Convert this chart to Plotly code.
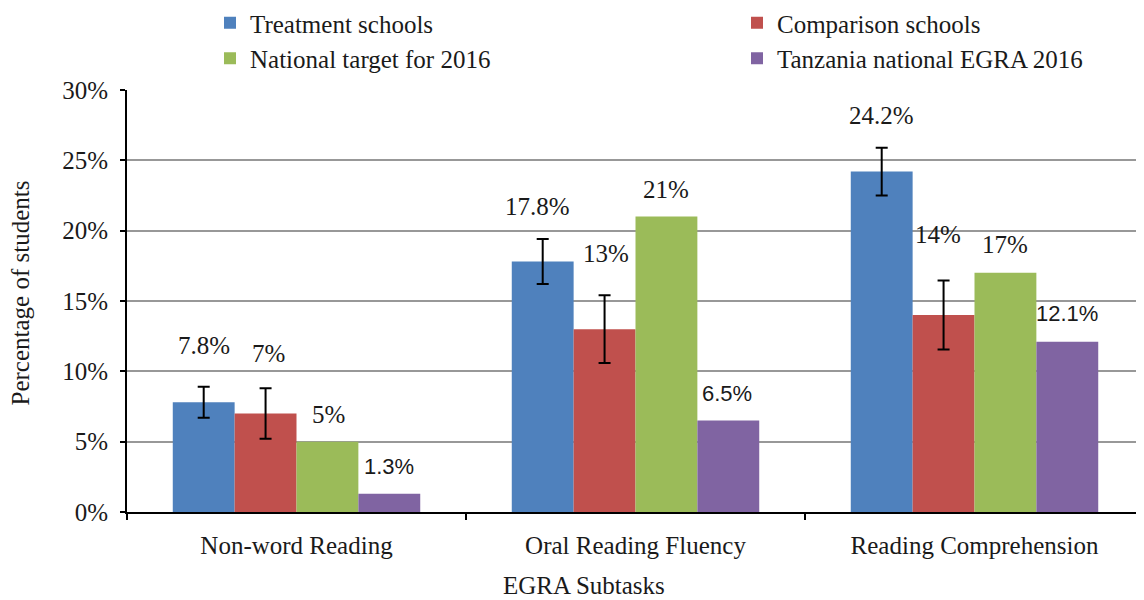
import plotly.graph_objects as go

categories = ["Non-word Reading", "Oral Reading Fluency", "Reading Comprehension"]
series_names = ["Treatment schools", "Comparison schools", "National target for 2016", "Tanzania national EGRA 2016"]
treatment = [7.8, 17.8, 24.2]
comparison = [7.0, 13.0, 14.0]
national_target = [5.0, 21.0, 17.0]
tanzania_egra = [1.3, 6.5, 12.1]
treatment_err = [1.1, 1.6, 1.7]
comparison_err = [1.8, 2.4, 2.45]
label_text = [
    ["7.8%", "17.8%", "24.2%"],
    ["7%", "13%", "14%"],
    ["5%", "21%", "17%"],
    ["1.3%", "6.5%", "12.1%"],
]
y_ticks = [0, 5, 10, 15, 20, 25, 30]
y_tick_text = ["0%", "5%", "10%", "15%", "20%", "25%", "30%"]

# label placement (layout only)
label_y = [
    [11.85, 21.7, 28.2],
    [11.3, 18.4, 19.7],
    [6.9, 22.9, 19.0],
    [3.27, 8.45, 14.1],
]
label_dx = [[0, -5, 0], [3, 1, -6], [1, 0, 0], [0, -1, 0]]

colors = ["#4F81BD", "#C0504D", "#9BBB59", "#8064A2"]
values = [treatment, comparison, national_target, tanzania_egra]
errors = [treatment_err, comparison_err, None, None]
legend_ids = ["legend", "legend2", "legend", "legend2"]

SERIF = "Liberation Serif, Times New Roman, serif"
SANS = "Liberation Sans, Arial, sans-serif"
TXT = "#1a1a1a"

# page body has an 8px margin; figure is sized to fill the rest of the window
W, H = 1136, 592
L, R, T, B = 119, 0, 82, 88
PW, PH = W - L - R, H - T - B

fig = go.Figure()
for i in range(4):
    kw = {}
    if errors[i] is not None:
        kw["error_y"] = dict(type="data", array=errors[i], visible=True,
                             color="black", thickness=2, width=6)
    fig.add_trace(go.Bar(
        x=categories, y=values[i], name=series_names[i],
        marker=dict(color=colors[i], line=dict(width=0)),
        legend=legend_ids[i],
        **kw,
    ))

bargap = 0.27
bw = (1 - bargap) / 4
for i in range(4):
    for j in range(3):
        fig.add_annotation(
            x=j + (i - 1.5) * bw, y=label_y[i][j], xref="x", yref="y",
            text=label_text[i][j], showarrow=False, xshift=label_dx[i][j],
            font=dict(family=SANS if i == 3 else SERIF,
                      size=22 if i == 3 else 25, color=TXT),
            xanchor="center", yanchor="middle",
        )

# axis titles
fig.add_annotation(
    xref="paper", x=(576 - L) / PW, yref="paper", y=-(577 - (H - B)) / PH,
    xanchor="center", yanchor="middle", borderpad=0,
    text="EGRA Subtasks", showarrow=False,
    font=dict(family=SERIF, size=25, color=TXT),
)
fig.add_annotation(
    xref="paper", x=(12 - L) / PW, yref="paper", y=((H - B) - 285.5) / PH,
    xanchor="center", yanchor="middle", textangle=-90,
    text="Percentage of students", showarrow=False,
    font=dict(family=SERIF, size=25, color=TXT),
)

leg_common = dict(
    orientation="v", xanchor="left", yanchor="top",
    xref="container", yref="paper", y=1 + (T + 8) / PH,
    font=dict(family=SERIF, size=25, color=TXT),
    traceorder="normal", bgcolor="rgba(0,0,0,0)", tracegroupgap=0,
)

fig.update_layout(
    width=W, height=H,
    margin=dict(l=L, r=R, t=T, b=B, autoexpand=False),
    paper_bgcolor="white", plot_bgcolor="white",
    barmode="group", bargap=bargap, bargroupgap=0,
    font=dict(family=SERIF, size=25, color=TXT),
    showlegend=True,
    legend=dict(x=202 / W, **leg_common),
    legend2=dict(x=729 / W, **leg_common),
    xaxis=dict(
        showline=True, linecolor="black", linewidth=2,
        ticks="outside", tickson="boundaries", ticklen=6, tickwidth=2,
        tickcolor="black", showgrid=False, automargin=False,
        tickfont=dict(family=SERIF, size=25, color=TXT),
        ticklabelstandoff=10,
    ),
    yaxis=dict(
        range=[0, 30], tickmode="array", tickvals=y_ticks, ticktext=y_tick_text,
        showline=True, linecolor="black", linewidth=2,
        ticks="outside", ticklen=5, tickwidth=2, tickcolor="black",
        showgrid=True, gridcolor="#989898", gridwidth=1.5,
        zeroline=False, automargin=False,
        tickfont=dict(family=SERIF, size=25, color=TXT),
        ticklabelstandoff=7,
    ),
)

fig.write_html("out.html")
